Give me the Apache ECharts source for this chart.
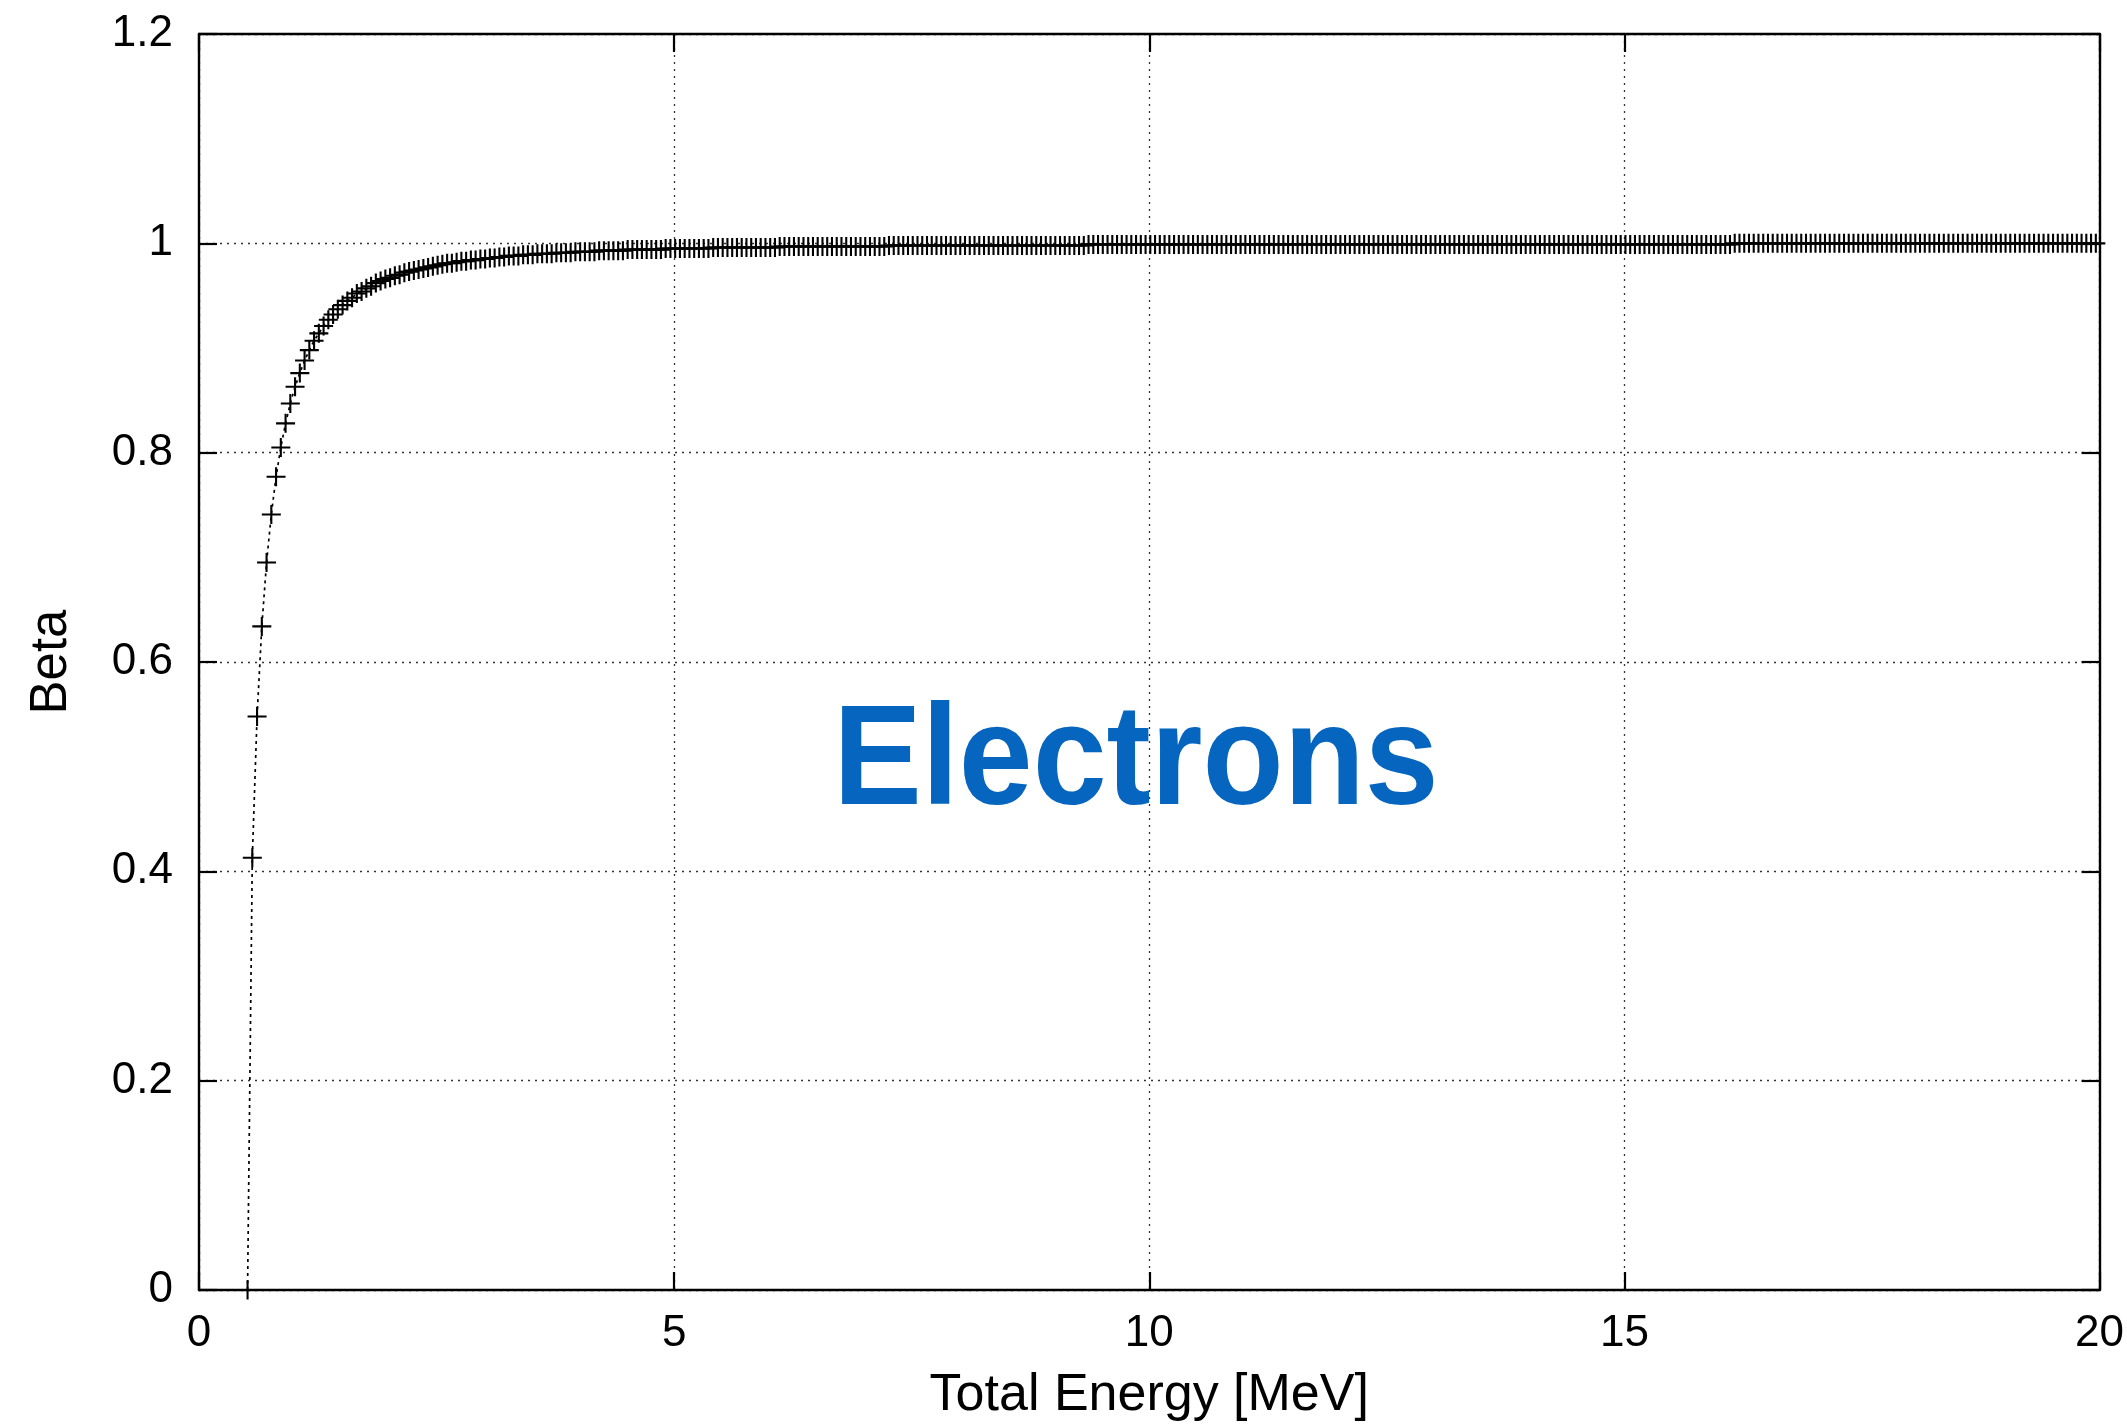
<!DOCTYPE html>
<html>
<head>
<meta charset="utf-8">
<script src="https://cdn.jsdelivr.net/npm/echarts@6/dist/echarts.min.js"></script>
<style>
html,body{margin:0;padding:0;background:#fff;}
#chart{width:2127px;height:1427px;}
</style>
</head>
<body>
<div id="chart"></div>
<script>
// Total energy [MeV] of each plotted point
var energy = [
0.511,0.561,0.611,0.661,0.711,0.761,0.811,0.861,0.911,0.961,
1.011,1.061,1.111,1.161,1.211,1.261,1.311,1.361,1.411,1.461,
1.511,1.561,1.611,1.661,1.711,1.761,1.811,1.861,1.911,1.961,
2.011,2.061,2.111,2.161,2.211,2.261,2.311,2.361,2.411,2.461,
2.511,2.561,2.611,2.661,2.711,2.761,2.811,2.861,2.911,2.961,
3.011,3.061,3.111,3.161,3.211,3.261,3.311,3.361,3.411,3.461,
3.511,3.561,3.611,3.661,3.711,3.761,3.811,3.861,3.911,3.961,
4.011,4.061,4.111,4.161,4.211,4.261,4.311,4.361,4.411,4.461,
4.511,4.561,4.611,4.661,4.711,4.761,4.811,4.861,4.911,4.961,
5.011,5.061,5.111,5.161,5.211,5.261,5.311,5.361,5.411,5.461,
5.511,5.561,5.611,5.661,5.711,5.761,5.811,5.861,5.911,5.961,
6.011,6.061,6.111,6.161,6.211,6.261,6.311,6.361,6.411,6.461,
6.511,6.561,6.611,6.661,6.711,6.761,6.811,6.861,6.911,6.961,
7.011,7.061,7.111,7.161,7.211,7.261,7.311,7.361,7.411,7.461,
7.511,7.561,7.611,7.661,7.711,7.761,7.811,7.861,7.911,7.961,
8.011,8.061,8.111,8.161,8.211,8.261,8.311,8.361,8.411,8.461,
8.511,8.561,8.611,8.661,8.711,8.761,8.811,8.861,8.911,8.961,
9.011,9.061,9.111,9.161,9.211,9.261,9.311,9.361,9.411,9.461,
9.511,9.561,9.611,9.661,9.711,9.761,9.811,9.861,9.911,9.961,
10.011,10.061,10.111,10.161,10.211,10.261,10.311,10.361,10.411,10.461,
10.511,10.561,10.611,10.661,10.711,10.761,10.811,10.861,10.911,10.961,
11.011,11.061,11.111,11.161,11.211,11.261,11.311,11.361,11.411,11.461,
11.511,11.561,11.611,11.661,11.711,11.761,11.811,11.861,11.911,11.961,
12.011,12.061,12.111,12.161,12.211,12.261,12.311,12.361,12.411,12.461,
12.511,12.561,12.611,12.661,12.711,12.761,12.811,12.861,12.911,12.961,
13.011,13.061,13.111,13.161,13.211,13.261,13.311,13.361,13.411,13.461,
13.511,13.561,13.611,13.661,13.711,13.761,13.811,13.861,13.911,13.961,
14.011,14.061,14.111,14.161,14.211,14.261,14.311,14.361,14.411,14.461,
14.511,14.561,14.611,14.661,14.711,14.761,14.811,14.861,14.911,14.961,
15.011,15.061,15.111,15.161,15.211,15.261,15.311,15.361,15.411,15.461,
15.511,15.561,15.611,15.661,15.711,15.761,15.811,15.861,15.911,15.961,
16.011,16.061,16.111,16.161,16.211,16.261,16.311,16.361,16.411,16.461,
16.511,16.561,16.611,16.661,16.711,16.761,16.811,16.861,16.911,16.961,
17.011,17.061,17.111,17.161,17.211,17.261,17.311,17.361,17.411,17.461,
17.511,17.561,17.611,17.661,17.711,17.761,17.811,17.861,17.911,17.961,
18.011,18.061,18.111,18.161,18.211,18.261,18.311,18.361,18.411,18.461,
18.511,18.561,18.611,18.661,18.711,18.761,18.811,18.861,18.911,18.961,
19.011,19.061,19.111,19.161,19.211,19.261,19.311,19.361,19.411,19.461,
19.511,19.561,19.611,19.661,19.711,19.761,19.811,19.861,19.911,19.961
];

// Beta for each point
var beta = [
0,0.413,0.548,0.634,0.695,0.741,0.777,0.805,0.828,0.847,
0.863,0.876,0.888,0.898,0.907,0.914,0.921,0.927,0.932,0.937,
0.941,0.945,0.948,0.952,0.954,0.957,0.959,0.962,0.964,0.966,
0.967,0.969,0.970,0.972,0.973,0.974,0.975,0.976,0.977,0.978,
0.979,0.980,0.981,0.981,0.982,0.983,0.983,0.984,0.984,0.985,
0.985,0.986,0.986,0.987,0.987,0.988,0.988,0.988,0.989,0.989,
0.989,0.990,0.990,0.990,0.990,0.991,0.991,0.991,0.991,0.992,
0.992,0.992,0.992,0.992,0.993,0.993,0.993,0.993,0.993,0.993,
0.994,0.994,0.994,0.994,0.994,0.994,0.994,0.994,0.995,0.995,
0.995,0.995,0.995,0.995,0.995,0.995,0.995,0.995,0.996,0.996,
0.996,0.996,0.996,0.996,0.996,0.996,0.996,0.996,0.996,0.996,
0.996,0.996,0.997,0.997,0.997,0.997,0.997,0.997,0.997,0.997,
0.997,0.997,0.997,0.997,0.997,0.997,0.997,0.997,0.997,0.997,
0.997,0.997,0.997,0.997,0.997,0.998,0.998,0.998,0.998,0.998,
0.998,0.998,0.998,0.998,0.998,0.998,0.998,0.998,0.998,0.998,
0.998,0.998,0.998,0.998,0.998,0.998,0.998,0.998,0.998,0.998,
0.998,0.998,0.998,0.998,0.998,0.998,0.998,0.998,0.998,0.998,
0.998,0.998,0.998,0.998,0.998,0.998,0.998,0.999,0.999,0.999,
0.999,0.999,0.999,0.999,0.999,0.999,0.999,0.999,0.999,0.999,
0.999,0.999,0.999,0.999,0.999,0.999,0.999,0.999,0.999,0.999,
0.999,0.999,0.999,0.999,0.999,0.999,0.999,0.999,0.999,0.999,
0.999,0.999,0.999,0.999,0.999,0.999,0.999,0.999,0.999,0.999,
0.999,0.999,0.999,0.999,0.999,0.999,0.999,0.999,0.999,0.999,
0.999,0.999,0.999,0.999,0.999,0.999,0.999,0.999,0.999,0.999,
0.999,0.999,0.999,0.999,0.999,0.999,0.999,0.999,0.999,0.999,
0.999,0.999,0.999,0.999,0.999,0.999,0.999,0.999,0.999,0.999,
0.999,0.999,0.999,0.999,0.999,0.999,0.999,0.999,0.999,0.999,
0.999,0.999,0.999,0.999,0.999,0.999,0.999,0.999,0.999,0.999,
0.999,0.999,0.999,0.999,0.999,0.999,0.999,0.999,0.999,0.999,
0.999,0.999,0.999,0.999,0.999,0.999,0.999,0.999,0.999,0.999,
0.999,0.999,0.999,0.999,0.999,0.999,0.999,0.999,0.999,0.999,
0.999,0.999,0.999,1,1,1,1,1,1,1,
1,1,1,1,1,1,1,1,1,1,
1,1,1,1,1,1,1,1,1,1,
1,1,1,1,1,1,1,1,1,1,
1,1,1,1,1,1,1,1,1,1,
1,1,1,1,1,1,1,1,1,1,
1,1,1,1,1,1,1,1,1,1,
1,1,1,1,1,1,1,1,1,1
];

var xTicks = {min: 0, max: 20, interval: 5};
var yTicks = {min: 0, max: 1.2, interval: 0.2};
var xName = 'Total Energy [MeV]';
var yName = 'Beta';
var annotation = 'Electrons';

var FONT = '"Liberation Sans", Arial, Helvetica, sans-serif';
var points = energy.map(function (e, i) { return [e, beta[i]]; });

var gridLine = {show: true, lineStyle: {color: '#333', width: 1.3, type: [2, 5]}};
var frameLine = {show: true, onZero: false, lineStyle: {color: '#000', width: 2.4}};
var tick = {show: true, inside: true, length: 18, lineStyle: {color: '#000', width: 2.2}};

var chart = echarts.init(document.getElementById('chart'), null, {renderer: 'canvas'});
chart.setOption({
  animation: false,
  backgroundColor: '#fff',
  grid: {left: 199, right: 27, top: 34, bottom: 133, containLabel: false},
  xAxis: [{
    type: 'value', position: 'bottom',
    min: xTicks.min, max: xTicks.max, interval: xTicks.interval,
    name: xName, nameLocation: 'middle', nameGap: 80,
    nameTextStyle: {fontFamily: FONT, fontSize: 52, color: '#000'},
    axisLine: frameLine, axisTick: tick, splitLine: gridLine,
    axisLabel: {fontFamily: FONT, fontSize: 44, color: '#000', margin: 22}
  }, {
    type: 'value', position: 'top',
    min: xTicks.min, max: xTicks.max, interval: xTicks.interval,
    axisLine: frameLine, axisTick: tick, splitLine: {show: false},
    axisLabel: {show: false}
  }],
  yAxis: [{
    type: 'value', position: 'left',
    min: yTicks.min, max: yTicks.max, interval: yTicks.interval,
    name: yName, nameLocation: 'middle', nameGap: 122,
    nameTextStyle: {fontFamily: FONT, fontSize: 51, color: '#000'},
    axisLine: frameLine, axisTick: tick, splitLine: gridLine,
    axisLabel: {fontFamily: FONT, fontSize: 44, color: '#000', margin: 26}
  }, {
    type: 'value', position: 'right',
    min: yTicks.min, max: yTicks.max, interval: yTicks.interval,
    axisLine: frameLine, axisTick: tick, splitLine: {show: false},
    axisLabel: {show: false}
  }],
  series: [{
    type: 'line',
    xAxisIndex: 0, yAxisIndex: 0,
    data: points,
    showAllSymbol: true,
    symbol: 'path://M8.9,0H11.1V20H8.9ZM0,8.9H20V11.1H0Z',
    symbolSize: 19,
    itemStyle: {color: '#000'},
    lineStyle: {color: '#000', width: 1.7, type: [3, 4]},
    clip: false,
    z: 3
  }]
});

var c = chart.convertToPixel({gridIndex: 0}, [9.86, 0.502]);
chart.setOption({
  graphic: [{
    type: 'text', x: c[0], y: c[1], z: 10,
    scaleX: 0.97, scaleY: 1.04,
    style: {
      text: annotation, fill: '#0565BF',
      font: 'bold 137px ' + FONT,
      textAlign: 'center', textVerticalAlign: 'middle'
    }
  }]
});
</script>
</body>
</html>
